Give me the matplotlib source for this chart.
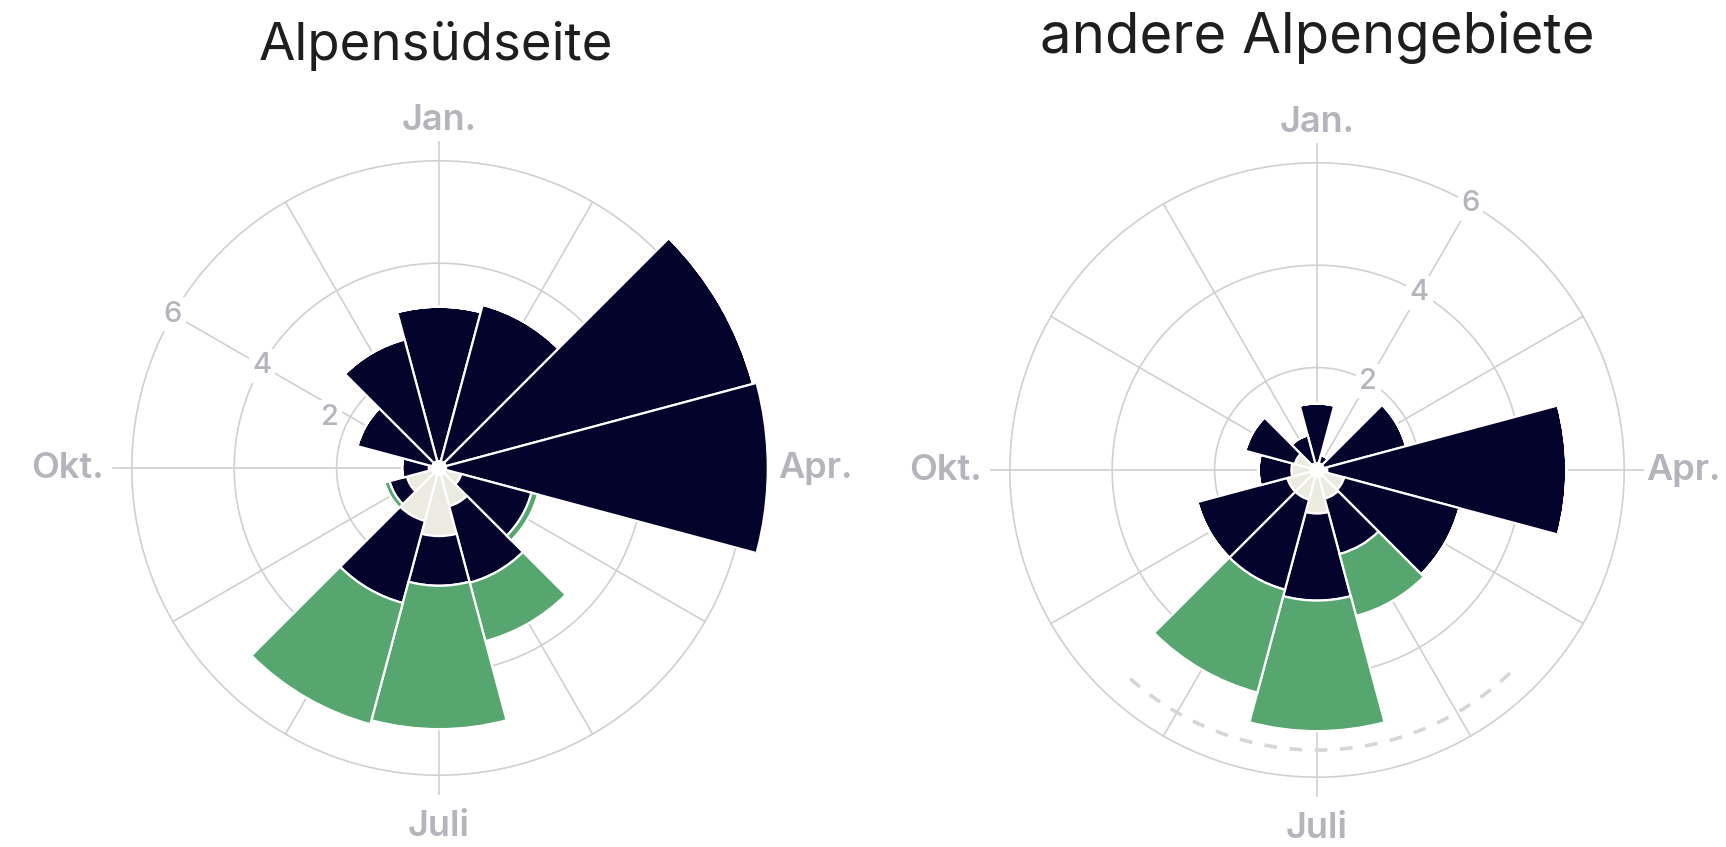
import numpy as np
import matplotlib
matplotlib.use("Agg")
import matplotlib.pyplot as plt

# ---------------- data ----------------
months = ["Jan", "Feb", "Mär", "Apr", "Mai", "Jun", "Jul", "Aug", "Sep", "Okt", "Nov", "Dez"]
axis_labels = ["Jan.", "Apr.", "Juli", "Okt."]
titles = ["Alpensüdseite", "andere Alpengebiete"]
r_ticks = [2, 4, 6]

# Alpensüdseite (stack: cream base, navy, green)
south_cream = [0, 0, 0, 0, 0.45, 0.77, 1.33, 1.07, 0.65, 0.2, 0, 0]
south_navy = [3.15, 3.3, 6.35, 6.5, 1.42, 1.55, 0.97, 1.66, 0.35, 0.52, 1.65, 2.6]
south_green = [0, 0, 0, 0, 0.13, 1.18, 2.8, 2.45, 0.1, 0, 0, 0]

# andere Alpengebiete
other_cream = [0, 0, 0, 0.2, 0.55, 0.58, 0.85, 0.6, 0.6, 0.5, 0.45, 0]
other_navy = [1.3, 0.3, 1.8, 4.67, 2.33, 1.12, 1.7, 1.82, 1.82, 0.64, 1.0, 0.7]
other_green = [0, 0, 0, 0, 0, 1.25, 2.55, 2.08, 0, 0, 0, 0]

# dashed reference arc (right chart)
ref_arc_r = 5.47
ref_arc_span = (136.5, 223.5)

# ---------------- style ----------------
NAVY = "#04032b"
GREEN = "#57a66f"
CREAM = "#ebebe1"
GRID = "#d0d0d4"
LABEL = "#b4b4bc"
TITLE = "#1e1e1e"
FONT = ["Inter", "DejaVu Sans"]
plt.rcParams["font.family"] = FONT

W, H = 1726, 847
fig = plt.figure(figsize=(W / 100, H / 100), dpi=100)

RMAX = 6.4
unit_px = 51.2
half = RMAX * unit_px


def make_ax(cx, cy):
    l = (cx - half) / W
    b = (H - cy - half) / H
    return fig.add_axes([l, b, 2 * half / W, 2 * half / H], projection="polar")


def draw(ax, cream, navy, green, tick_pos, apr_r, dashed=False):
    ax.set_theta_zero_location("N")
    ax.set_theta_direction(-1)
    ax.set_ylim(0, RMAX)
    ax.grid(False)
    ax.set_xticks([])
    ax.set_yticks([])
    ax.spines["polar"].set_visible(False)
    ax.patch.set_alpha(0)

    n = len(months)
    theta = np.arange(n) * 2 * np.pi / n
    width = 2 * np.pi / n

    # grid circles
    tt = np.linspace(0, 2 * np.pi, 400)
    for r in r_ticks:
        ax.plot(tt, np.full_like(tt, r), color=GRID, lw=1.2, zorder=1)
    # spokes
    for i, th in enumerate(theta):
        rend = 6.36 if i % 3 == 0 else 6.0
        ax.plot([th, th], [0, rend], color=GRID, lw=1.2, zorder=1)

    cream = np.array(cream)
    navy = np.array(navy)
    green = np.array(green)
    ax.bar(theta, cream, width=width, bottom=0, color=CREAM,
           edgecolor="white", linewidth=1.6, zorder=3)
    ax.bar(theta, navy, width=width, bottom=cream, color=NAVY,
           edgecolor="white", linewidth=1.6, zorder=3)
    ax.bar(theta, green, width=width, bottom=cream + navy, color=GREEN,
           edgecolor="white", linewidth=1.6, zorder=3)
    # white hub
    ax.bar(0, 0.16, width=2 * np.pi, bottom=0, color="white", linewidth=0, zorder=4)

    if dashed:
        ta = np.radians(np.linspace(ref_arc_span[0], ref_arc_span[1], 200))
        ax.plot(ta, np.full_like(ta, ref_arc_r), color="#d6d6d6", lw=2.6,
                dashes=(3.5, 3.5), zorder=2, solid_capstyle="butt")

    # radial tick labels
    for r, (ang, rr) in zip(r_ticks, tick_pos):
        ax.text(np.radians(ang), rr, str(r), color=LABEL, fontsize=21, ha="center",
                va="center", fontweight="medium", zorder=5,
                bbox=dict(boxstyle="square,pad=0.12", fc="white", ec="none"))

    # month labels
    kw = dict(color=LABEL, fontsize=26, fontweight="semibold")
    ax.text(0, 6.78, axis_labels[0], ha="center", va="center", **kw)
    ax.text(np.pi / 2, apr_r, axis_labels[1], ha="left", va="center", **kw)
    ax.text(np.pi, 7.0, axis_labels[2], ha="center", va="center", **kw)
    ax.text(3 * np.pi / 2, 6.55, axis_labels[3], ha="right", va="center", **kw)


axL = make_ax(439, 468)
draw(axL, south_cream, south_navy, south_green,
     [(295, 2.35), (300, 4.0), (300, 6.0)], 6.62)
axR = make_ax(1317, 470)
draw(axR, other_cream, other_navy, other_green,
     [(30, 2.0), (30, 4.0), (30, 6.0)], 6.42, dashed=True)

fig.text(436 / W, 1 - 60 / H, titles[0], fontsize=38, color=TITLE, ha="center", va="baseline")
fig.text(1317 / W, 1 - 53 / H, titles[1], fontsize=40.5, color=TITLE, ha="center", va="baseline")

fig.savefig("out.png", dpi=100, facecolor="white")
